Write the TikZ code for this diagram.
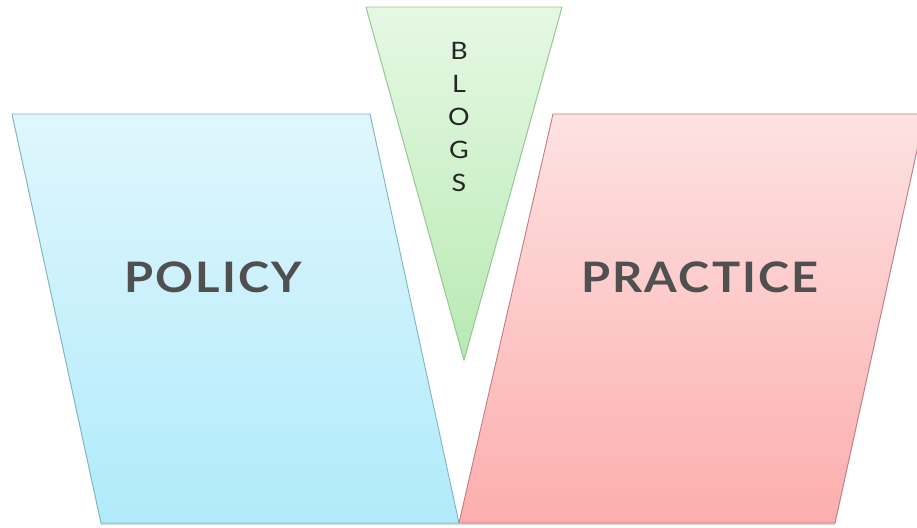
\documentclass[tikz,border=0pt]{standalone}
\usepackage{fontspec}
\setmainfont{Lato}
\newfontfamily\widefont[LetterSpace=5, FakeStretch=1.12]{Lato}
\usetikzlibrary{shadows}
\definecolor{txtgray}{HTML}{505050}
\definecolor{bluetop}{HTML}{E0F6FD}
\definecolor{bluebot}{HTML}{B0EBFA}
\definecolor{blueline}{HTML}{7FB3C3}
\definecolor{redtop}{HTML}{FDE2E2}
\definecolor{redbot}{HTML}{FCAEAD}
\definecolor{redline}{HTML}{C47A84}
\definecolor{greentop}{HTML}{E6F8E4}
\definecolor{greenbot}{HTML}{B8EAB3}
\definecolor{greenline}{HTML}{94C890}
\tikzset{
  panel/.style={line width=0.9pt, line join=round,
    drop shadow={shadow xshift=0pt, shadow yshift=-2pt, opacity=0.25, fill=black!60}},
  bigword/.style={font=\widefont\bfseries\fontsize{42}{46}\selectfont, text=txtgray},
  letter/.style={font=\widefont\fontsize{24}{26}\selectfont, text=black!85, inner sep=0pt}
}
\begin{document}
\begin{tikzpicture}[x=1pt,y=-1pt]
  \useasboundingbox (0,0) rectangle (917,527);
  \begin{scope}
    \clip (0,0) rectangle (917,527);
    % policy panel
    \path[panel, draw=blueline, top color=bluetop, bottom color=bluebot]
      (12,114) -- (370,114) -- (459,523) -- (101,523) -- cycle;
    % practice panel
    \path[panel, draw=redline, top color=redtop, bottom color=redbot]
      (553,114) -- (925,114) -- (835,523) -- (459,523) -- cycle;
    % blogs funnel
    \path[panel, draw=greenline, top color=greentop, bottom color=greenbot]
      (366,7) -- (562,7) -- (464,360) -- cycle;
  \end{scope}
  \node[bigword] (policy) at (213,277) {POLICY};
  \node[bigword] (practice) at (700,277) {PRACTICE};
  \node[letter] (b) at (459,51) {B};
  \node[letter] (l) at (459,84) {L};
  \node[letter] (o) at (459,117) {O};
  \node[letter] (g) at (459,150) {G};
  \node[letter] (s) at (459,183) {S};
\end{tikzpicture}
\end{document}
